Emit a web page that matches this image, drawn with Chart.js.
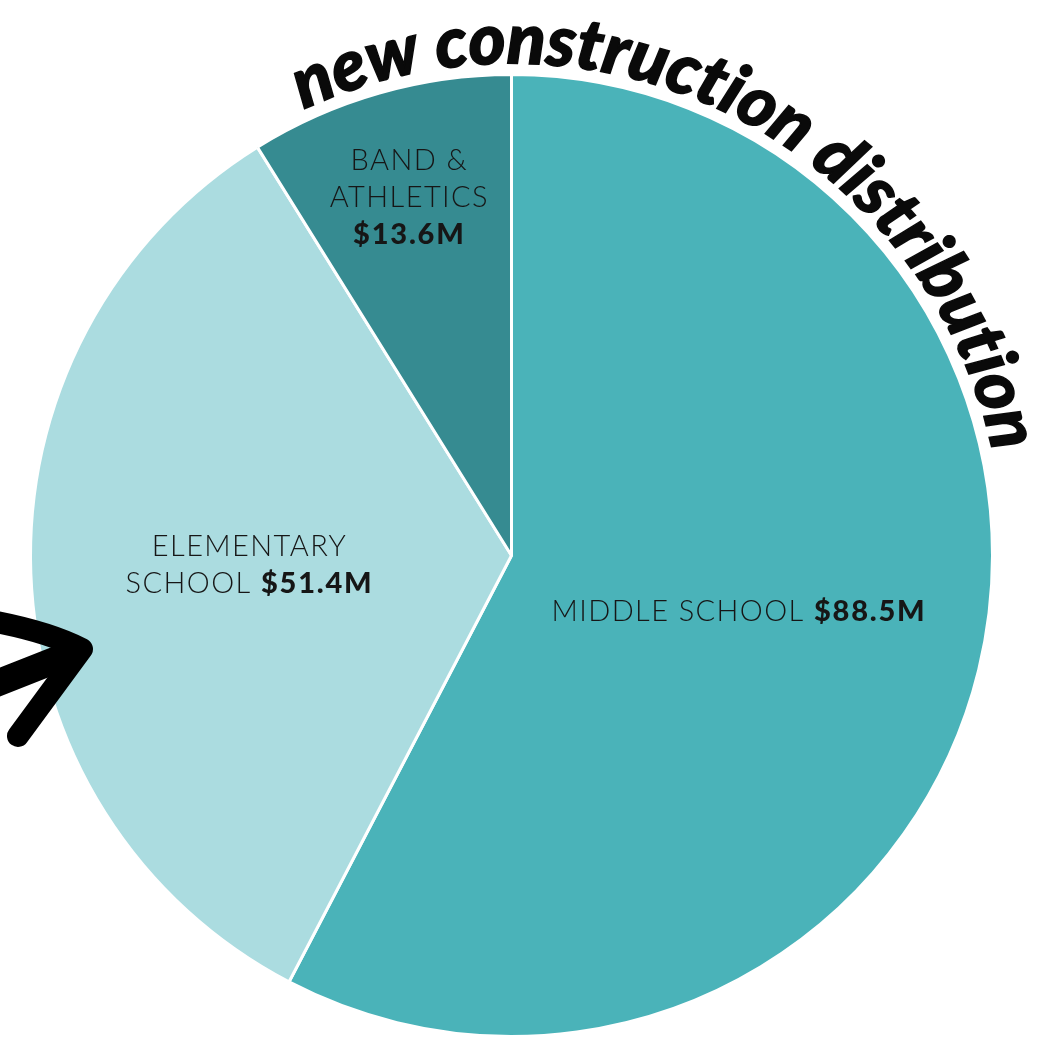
<!DOCTYPE html>
<html>
<head>
<meta charset="utf-8">
<script src="https://cdn.jsdelivr.net/npm/chart.js@4.4.0/dist/chart.umd.min.js"></script>
<style>
  html, body { margin: 0; padding: 0; background: #fff; }
  #wrap { width: 1051px; height: 1038px; position: relative; }
</style>
</head>
<body>
<div id="wrap"><canvas id="chart"></canvas></div>
<script>
const categories = ['MIDDLE SCHOOL', 'ELEMENTARY SCHOOL', 'BAND & ATHLETICS'];
const amounts = [88.5, 51.4, 13.6]; // $ millions
const sliceColors = ['#4AB3B9', '#ABDCE0', '#368B91'];
// how each category name wraps inside its slice
const labelLines = [['MIDDLE SCHOOL'], ['ELEMENTARY', 'SCHOOL'], ['BAND &', 'ATHLETICS', '']];
const title = 'new construction distribution';

function money(v) {
  return '$' + v.toFixed(1) + 'M';
}

/** Names + amounts placed along each slice's middle angle */
const sliceLabels = {
  id: 'sliceLabels',
  afterDatasetsDraw(chart, args, opts) {
    const { ctx } = chart;
    chart.getDatasetMeta(0).data.forEach((arc, i) => {
      const { x, y, startAngle, endAngle, outerRadius } =
        arc.getProps(['x', 'y', 'startAngle', 'endAngle', 'outerRadius'], true);
      const mid = (startAngle + endAngle) / 2;
      const r = outerRadius * opts.radius[i];
      const cx = x + Math.cos(mid) * r;
      const cy = y + Math.sin(mid) * r;
      const lines = labelLines[i];
      const n = lines.length;
      const value = money(amounts[i]);
      ctx.save();
      ctx.textBaseline = 'middle';
      ctx.textAlign = 'left';
      ctx.fillStyle = '#161616';
      const setLight = () => { ctx.font = opts.lightFont; ctx.letterSpacing = opts.lightSpacing; };
      const setBold = () => { ctx.font = opts.boldFont; ctx.letterSpacing = opts.boldSpacing; };
      lines.forEach((line, j) => {
        const ly = cy + (j - (n - 1) / 2) * opts.lineHeight;
        const last = j === n - 1;
        const light = line && last ? line + ' ' : line;
        setLight();
        const wl = light ? ctx.measureText(light).width : 0;
        let wb = 0;
        if (last) {
          setBold();
          wb = ctx.measureText(value).width;
        }
        const lx = cx - (wl + wb) / 2;
        setLight();
        if (light) ctx.fillText(light, lx, ly);
        if (last) {
          setBold();
          ctx.fillText(value, lx + wl, ly);
        }
      });
      ctx.restore();
    });
  }
};

/** Title bent round the top right of the pie */
const arcTitle = {
  id: 'arcTitle',
  afterDraw(chart, args, opts) {
    const { ctx } = chart;
    const arc = chart.getDatasetMeta(0).data[0];
    const R = arc.outerRadius + opts.gap;
    const a0 = (opts.from - 90) * Math.PI / 180;
    const a1 = (opts.to - 90) * Math.PI / 180;
    const chars = [...opts.text];
    ctx.save();
    ctx.font = opts.weight + ' ' + opts.baseSize + 'px ' + opts.family;
    const baseTotal = chars.reduce((s, c) => s + ctx.measureText(c).width, 0);
    const size = opts.baseSize * (a1 - a0) * R / baseTotal;
    ctx.font = opts.weight + ' ' + size.toFixed(1) + 'px ' + opts.family;
    ctx.fillStyle = '#0a0a0a';
    ctx.strokeStyle = '#0a0a0a';
    ctx.lineWidth = 1.5;
    ctx.textAlign = 'center';
    ctx.textBaseline = 'alphabetic';
    let a = a0;
    chars.forEach(c => {
      const w = ctx.measureText(c).width;
      const ca = a + w / 2 / R;
      ctx.save();
      ctx.translate(arc.x + Math.cos(ca) * R, arc.y + Math.sin(ca) * R);
      ctx.rotate(ca + Math.PI / 2);
      ctx.fillText(c, 0, 0);
      ctx.strokeText(c, 0, 0);
      ctx.restore();
      a += w / R;
    });
    ctx.restore();
  }
};

/** Hand drawn arrow poking in from the left edge */
const arrow = {
  id: 'arrow',
  afterDraw(chart) {
    const { ctx } = chart;
    ctx.save();
    ctx.strokeStyle = '#000';
    ctx.lineCap = 'round';
    ctx.lineJoin = 'round';
    ctx.lineWidth = 22;
    ctx.beginPath();
    ctx.moveTo(-20, 619);
    ctx.quadraticCurveTo(45, 630, 82, 649);
    ctx.lineTo(18, 736);
    ctx.stroke();
    ctx.lineWidth = 27;
    ctx.beginPath();
    ctx.moveTo(-20, 690);
    ctx.lineTo(76, 652);
    ctx.stroke();
    ctx.restore();
  }
};

new Chart(document.getElementById('chart'), {
  type: 'pie',
  data: {
    labels: categories,
    datasets: [{
      data: amounts,
      backgroundColor: sliceColors,
      borderColor: '#ffffff',
      borderWidth: 3,
      hoverBorderWidth: 3,
      hoverOffset: 0,
      offset: 0,
    }],
  },
  options: {
    responsive: true,
    maintainAspectRatio: false,
    animation: false,
    events: [],
    layout: { padding: { top: 73, bottom: 0, left: 29, right: 57 } },
    plugins: {
      legend: { display: false },
      tooltip: { enabled: false },
      sliceLabels: {
        radius: [0.487, 0.545, 0.773],
        lineHeight: 37,
        lightFont: '300 29px Lato, "Noto Sans", sans-serif',
        lightSpacing: '1.4px',
        boldFont: '900 29px Lato, "Noto Sans", sans-serif',
        boldSpacing: '1.8px',
      },
      arcTitle: {
        text: title,
        from: -25,
        to: 78,
        gap: 11,
        baseSize: 58,
        weight: 'italic 900',
        family: 'Lato, "DejaVu Sans", sans-serif',
      },
    },
  },
  plugins: [sliceLabels, arcTitle, arrow],
});
</script>
</body>
</html>
